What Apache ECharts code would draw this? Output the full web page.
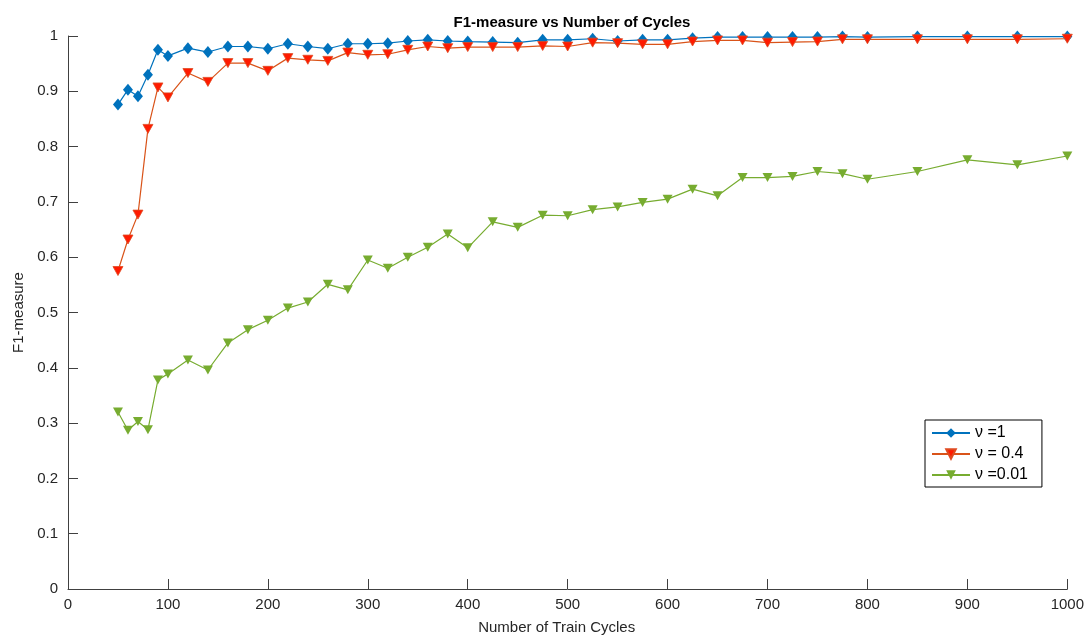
<!DOCTYPE html>
<html>
<head>
<meta charset="utf-8">
<script src="https://cdn.jsdelivr.net/npm/echarts@6/dist/echarts.min.js"></script>
<style>html,body{margin:0;padding:0;background:#fff;}#c{width:1087px;height:640px;}</style>
</head>
<body>
<div id="c"></div>
<script>
const cycles = [50,60,70,80,90,100,120,140,160,180,200,220,240,260,280,300,320,340,360,380,400,425,450,475,500,525,550,575,600,625,650,675,700,725,750,775,800,850,900,950,1000];
const nu1 = [0.876,0.903,0.891,0.930,0.975,0.964,0.978,0.971,0.981,0.981,0.977,0.986,0.981,0.977,0.986,0.986,0.987,0.991,0.993,0.991,0.990,0.989,0.988,0.993,0.993,0.995,0.991,0.993,0.993,0.996,0.998,0.998,0.998,0.998,0.998,0.999,0.998,0.999,0.999,0.999,0.999];
const nu04 = [0.575,0.632,0.677,0.832,0.907,0.889,0.933,0.917,0.951,0.951,0.937,0.960,0.957,0.955,0.970,0.966,0.967,0.975,0.981,0.978,0.980,0.980,0.980,0.982,0.981,0.988,0.987,0.985,0.985,0.990,0.992,0.992,0.988,0.989,0.990,0.994,0.994,0.994,0.994,0.994,0.995];
const nu001 = [0.320,0.287,0.303,0.288,0.378,0.389,0.414,0.396,0.445,0.469,0.486,0.508,0.519,0.551,0.541,0.595,0.580,0.600,0.618,0.642,0.617,0.664,0.654,0.676,0.675,0.686,0.691,0.699,0.705,0.723,0.711,0.744,0.744,0.746,0.755,0.751,0.741,0.755,0.776,0.767,0.783];
const seriesNames = ['\u03bd =1', '\u03bd = 0.4', '\u03bd =0.01'];

const pair = (ys) => cycles.map((x, i) => [x, ys[i]]);
const font = 'Liberation Sans, Arial, Helvetica, sans-serif';
const axisCol = '#404040';
const textCol = '#262626';

const chart = echarts.init(document.getElementById('c'), null, {renderer: 'canvas'});
chart.setOption({
  animation: false,
  backgroundColor: '#fff',
  title: {
    text: 'F1-measure vs Number of Cycles',
    left: 567, textAlign: 'center', top: 10,
    textStyle: {fontFamily: font, fontSize: 15, fontWeight: 'bold', color: '#000'}
  },
  grid: {left: 68, right: 19, top: 36, bottom: 46, containLabel: false},
  legend: {
    orient: 'vertical', left: 925, top: 420,
    padding: [5, 14, 4, 6],
    itemGap: 5,
    itemWidth: 38, itemHeight: 12,
    borderColor: '#000', borderWidth: 1, backgroundColor: '#fff',
    textStyle: {fontFamily: font, fontSize: 16, color: '#000'},
    data: seriesNames
  },
  xAxis: {
    type: 'value', min: 0, max: 1000, interval: 100,
    name: 'Number of Train Cycles', nameLocation: 'middle', nameGap: 31,
    nameTextStyle: {fontFamily: font, fontSize: 15, color: textCol, padding: [0, 22, 0, 0]},
    axisLine: {show: true, lineStyle: {color: axisCol, width: 1}},
    axisTick: {show: true, inside: true, length: 10, lineStyle: {color: axisCol}},
    axisLabel: {fontFamily: font, fontSize: 15, color: textCol, margin: 8, formatter: (v) => String(v)},
    splitLine: {show: false}
  },
  yAxis: {
    type: 'value', min: 0, max: 1, interval: 0.1,
    name: 'F1-measure', nameLocation: 'middle', nameGap: 42,
    nameTextStyle: {fontFamily: font, fontSize: 15, color: textCol},
    axisLine: {show: true, lineStyle: {color: axisCol, width: 1}},
    axisTick: {show: true, inside: true, length: 10, lineStyle: {color: axisCol}},
    axisLabel: {fontFamily: font, fontSize: 15, color: textCol, margin: 10},
    splitLine: {show: false}
  },
  series: [
    {
      name: seriesNames[0], type: 'line', data: pair(nu1),
      symbol: 'diamond', symbolSize: [10, 12],
      lineStyle: {color: '#0072BD', width: 1.2},
      itemStyle: {color: '#0072BD', borderColor: '#0072BD', borderWidth: 0}
    },
    {
      name: seriesNames[1], type: 'line', data: pair(nu04),
      symbol: 'triangle', symbolRotate: 180, symbolSize: [10, 9],
      lineStyle: {color: '#D95319', width: 1.2},
      itemStyle: {color: '#FF1A00', borderColor: '#E04A20', borderWidth: 0.8}
    },
    {
      name: seriesNames[2], type: 'line', data: pair(nu001),
      symbol: 'triangle', symbolRotate: 180, symbolSize: [10, 9],
      lineStyle: {color: '#77AC30', width: 1.2},
      itemStyle: {color: '#77AC30', borderColor: '#77AC30', borderWidth: 0}
    }
  ]
});
</script>
</body>
</html>
